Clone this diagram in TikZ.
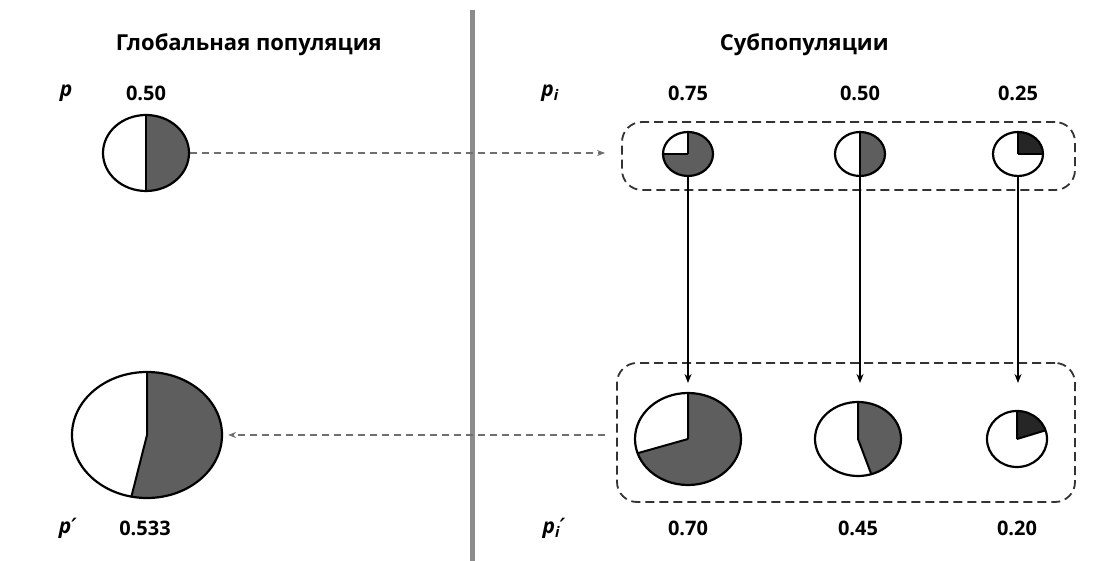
\documentclass[tikz,border=0pt]{standalone}
\usepackage{fontspec}
\setmainfont{Open Sans}
\newfontfamily\primefont{DejaVu Sans}
\usetikzlibrary{arrows.meta, positioning, shapes.geometric, calc}
\definecolor{cdark}{HTML}{5E5E5E}
\definecolor{cblack}{HTML}{262626}
\definecolor{cgrey}{HTML}{6E6E6E}
\tikzset{
  every picture/.style={x=1pt, y=1pt, line width=1.2pt},
  pie/.style={draw=black, ellipse, inner sep=0pt, line width=2.2pt},
  group/.style={draw=black!80, dash pattern=on 9pt off 5pt, rounded corners=20pt, inner sep=0pt, line width=1.8pt},
  arrow/.style={-{Stealth[length=9pt, width=7pt]}, draw=black, line width=1.8pt},
  dasharrow/.style={-{Stealth[length=8pt, width=6pt]}, draw=cgrey, line width=1.6pt, dash pattern=on 7pt off 5pt},
  title/.style={font=\bfseries\fontsize{22}{26}\selectfont},
  value/.style={font=\bfseries\fontsize{20}{24}\selectfont},
  var/.style={font=\bfseries\itshape\fontsize{21}{25}\selectfont},
}
% name, x, y, x radius, y radius, dark from, dark to, colour
\newcommand{\piechart}[8]{%
  \fill[#8] (#2,#3) -- ++(#6:#4 and #5) arc[start angle=#6, end angle=#7, x radius=#4, y radius=#5] -- cycle;
  \draw[line width=2pt] (#2,#3) -- +(#6:#4 and #5) (#2,#3) -- +(#7:#4 and #5);
  \node[pie, minimum width=2*#4, minimum height=2*#5] (#1) at (#2,#3) {};
}

\begin{document}
\begin{tikzpicture}
  % global population on the left of the line, subpopulations on the right
  \useasboundingbox (0,0) rectangle (1111,-561);
  \draw[draw=black!45, line width=5pt] (472,-10) -- (472,-561);

  \node[title, anchor=west] (gtitle) at (112,-45) {Глобальная популяция};
  \node[title, anchor=west] (stitle) at (716,-45) {Субпопуляции};

  \node[var] (p) at (66,-93) {p};
  \node[value] (pval) at (146,-93) {0.50};
  \node[var] (pi) at (550,-93) {p\textsubscript{i}};
  \node[var] (pp) at (68,-528) {p{\primefont ′}};
  \node[value] (ppval) at (145,-528) {0.533};
  \node[var] (pip) at (554,-528) {p\textsubscript{i}{\primefont ′}};

  \piechart{g}{146}{-153}{43}{38}{-90}{90}{cdark}
  \piechart{gp}{147}{-435}{75}{63}{-102}{90}{cdark}

  \foreach \i/\x/\val/\sa/\ea/\col in {1/688/0.75/180/450/cdark,
                                       2/860/0.50/-90/90/cdark,
                                       3/1018/0.25/0/90/cblack} {
    \node[value] (v\i) at (\x,-93) {\val};
    \piechart{s\i}{\x}{-154}{25}{22}{\sa}{\ea}{\col}
  }
  \foreach \i/\x/\rx/\ry/\val/\sa/\ea/\col in {1/688/53/46/0.70/198/450/cdark,
                                               2/858/43/37/0.45/-72/90/cdark,
                                               3/1017/30/28/0.20/18/90/cblack} {
    \node[value] (w\i) at (\x,-528) {\val};
    \piechart{t\i}{\x}{-439}{\rx}{\ry}{\sa}{\ea}{\col}
  }

  \node[group, minimum width=453, minimum height=68] (subtop) at (848.5,-156) {};
  \node[group, minimum width=458, minimum height=139] (subbot) at (846,-432.5) {};

  \coordinate (tips) at (0,-383);
  \foreach \i in {1,2,3}
    \draw[arrow] (s\i.south) -- (s\i.south |- tips);
  \draw[dasharrow, shorten >=16pt] (g.east) -- (g.east -| subtop.west);
  \draw[dasharrow, shorten <=11pt, shorten >=5pt] (subbot.west |- gp.east) -- (gp.east);
\end{tikzpicture}
\end{document}
